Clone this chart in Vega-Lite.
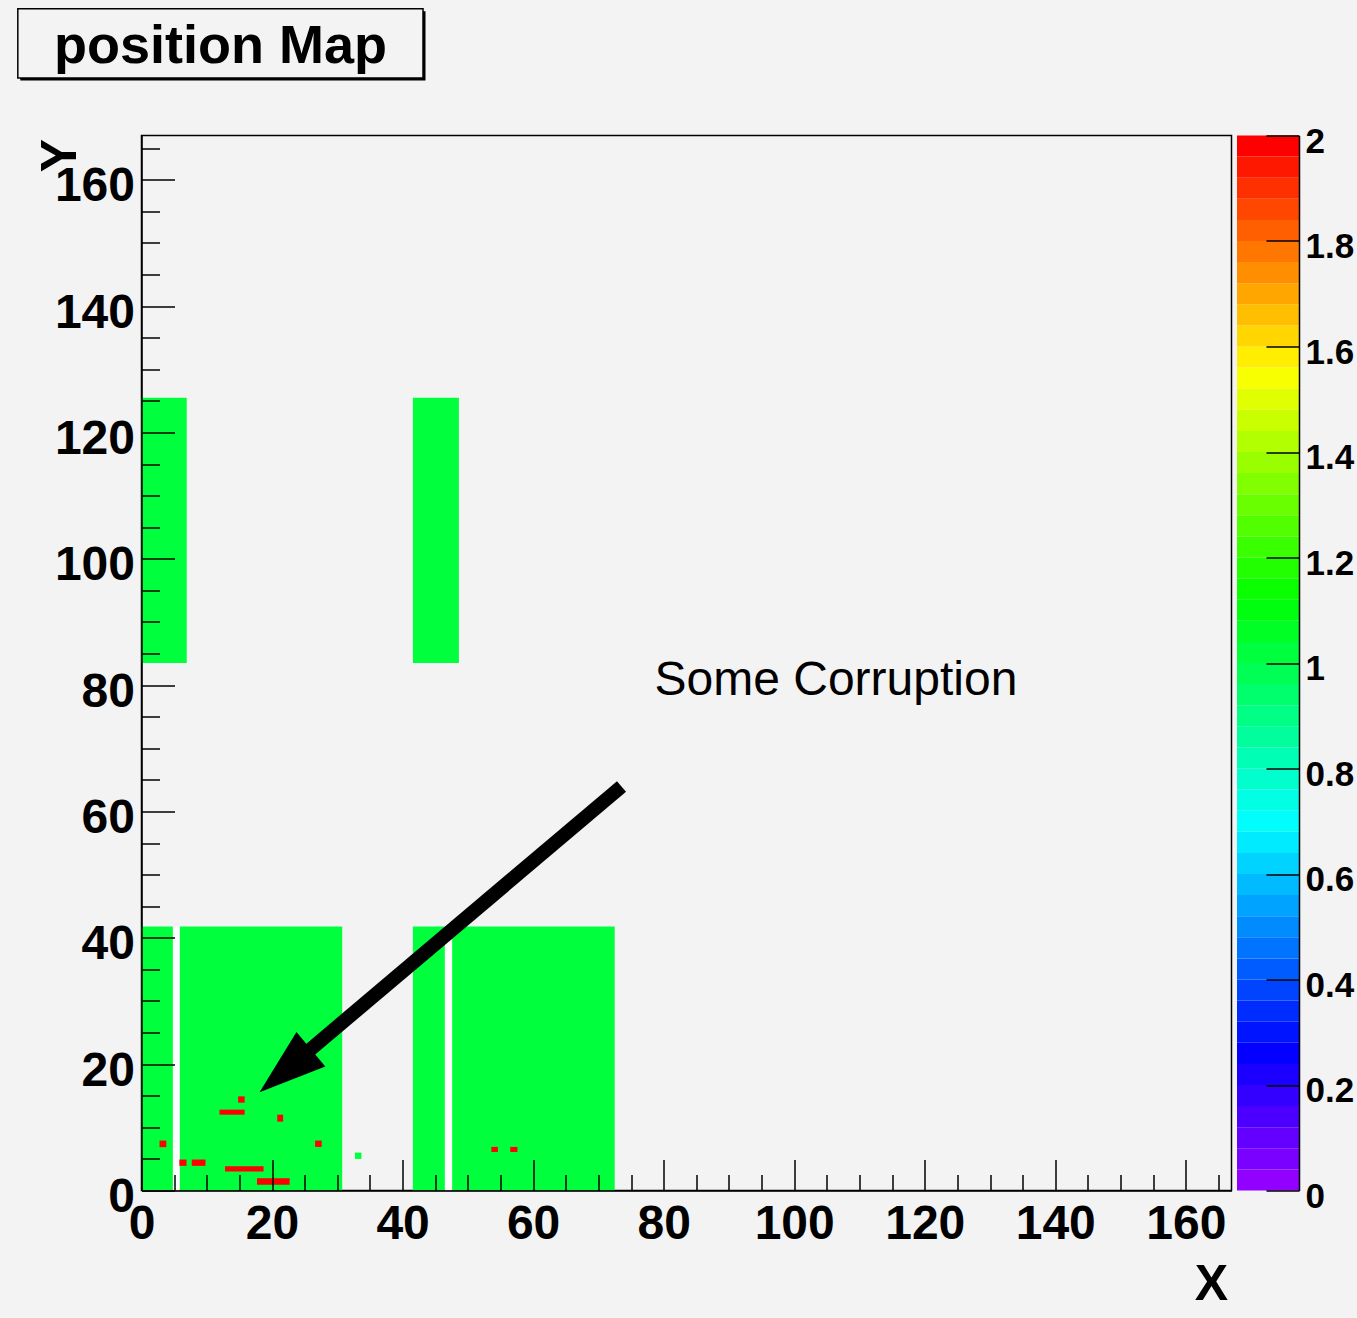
{
  "$schema": "https://vega.github.io/schema/vega-lite/v6.json",
  "background": "#f3f3f3",
  "padding": {"left": 15.5, "top": 6.5, "right": 10, "bottom": 20},
  "config": {
    "view": {"stroke": null},
    "font": "Liberation Sans",
    "axis": {"grid": false, "labelColor": "#000", "titleColor": "#000", "tickColor": "#000", "domainColor": "#000"}
  },
  "datasets": {
    "cells": [
      {"x1": 0, "x2": 6.93, "y1": 83.5, "y2": 125.5, "v": 1},
      {"x1": 41.58, "x2": 48.63, "y1": 83.5, "y2": 125.5, "v": 1},
      {"x1": 0, "x2": 4.8, "y1": 0, "y2": 41.77, "v": 1},
      {"x1": 5.87, "x2": 30.75, "y1": 0, "y2": 41.77, "v": 1},
      {"x1": 41.58, "x2": 46.47, "y1": 0, "y2": 41.77, "v": 1},
      {"x1": 47.6, "x2": 72.5, "y1": 0, "y2": 41.77, "v": 1},
      {"x1": 32.7, "x2": 33.7, "y1": 5.0, "y2": 6.0, "v": 1},
      {"x1": 2.76, "x2": 3.8, "y1": 6.86, "y2": 7.9, "v": 2},
      {"x1": 14.8, "x2": 15.8, "y1": 13.9, "y2": 14.9, "v": 2},
      {"x1": 11.95, "x2": 15.8, "y1": 12.0, "y2": 12.8, "v": 2},
      {"x1": 20.8, "x2": 21.7, "y1": 10.9, "y2": 12.0, "v": 2},
      {"x1": 26.6, "x2": 27.6, "y1": 6.9, "y2": 7.9, "v": 2},
      {"x1": 5.8, "x2": 6.9, "y1": 3.9, "y2": 4.9, "v": 2},
      {"x1": 7.7, "x2": 9.8, "y1": 3.9, "y2": 4.9, "v": 2},
      {"x1": 12.8, "x2": 18.7, "y1": 3.0, "y2": 3.85, "v": 2},
      {"x1": 17.7, "x2": 22.7, "y1": 0.9, "y2": 1.95, "v": 2},
      {"x1": 53.6, "x2": 54.6, "y1": 6.1, "y2": 6.9, "v": 2},
      {"x1": 56.5, "x2": 57.6, "y1": 6.1, "y2": 6.9, "v": 2}
    ],
    "gaps": [
      {"x1": 4.8, "x2": 5.87, "y1": 0, "y2": 41.77},
      {"x1": 46.47, "x2": 47.6, "y1": 0, "y2": 41.77}
    ],
    "palette": [
      {"lo": 0.00, "hi": 0.04, "c": 0.02}, {"lo": 0.04, "hi": 0.08, "c": 0.06},
      {"lo": 0.08, "hi": 0.12, "c": 0.10}, {"lo": 0.12, "hi": 0.16, "c": 0.14},
      {"lo": 0.16, "hi": 0.20, "c": 0.18}, {"lo": 0.20, "hi": 0.24, "c": 0.22},
      {"lo": 0.24, "hi": 0.28, "c": 0.26}, {"lo": 0.28, "hi": 0.32, "c": 0.30},
      {"lo": 0.32, "hi": 0.36, "c": 0.34}, {"lo": 0.36, "hi": 0.40, "c": 0.38},
      {"lo": 0.40, "hi": 0.44, "c": 0.42}, {"lo": 0.44, "hi": 0.48, "c": 0.46},
      {"lo": 0.48, "hi": 0.52, "c": 0.50}, {"lo": 0.52, "hi": 0.56, "c": 0.54},
      {"lo": 0.56, "hi": 0.60, "c": 0.58}, {"lo": 0.60, "hi": 0.64, "c": 0.62},
      {"lo": 0.64, "hi": 0.68, "c": 0.66}, {"lo": 0.68, "hi": 0.72, "c": 0.70},
      {"lo": 0.72, "hi": 0.76, "c": 0.74}, {"lo": 0.76, "hi": 0.80, "c": 0.78},
      {"lo": 0.80, "hi": 0.84, "c": 0.82}, {"lo": 0.84, "hi": 0.88, "c": 0.86},
      {"lo": 0.88, "hi": 0.92, "c": 0.90}, {"lo": 0.92, "hi": 0.96, "c": 0.94},
      {"lo": 0.96, "hi": 1.00, "c": 0.98}, {"lo": 1.00, "hi": 1.04, "c": 1.02},
      {"lo": 1.04, "hi": 1.08, "c": 1.06}, {"lo": 1.08, "hi": 1.12, "c": 1.10},
      {"lo": 1.12, "hi": 1.16, "c": 1.14}, {"lo": 1.16, "hi": 1.20, "c": 1.18},
      {"lo": 1.20, "hi": 1.24, "c": 1.22}, {"lo": 1.24, "hi": 1.28, "c": 1.26},
      {"lo": 1.28, "hi": 1.32, "c": 1.30}, {"lo": 1.32, "hi": 1.36, "c": 1.34},
      {"lo": 1.36, "hi": 1.40, "c": 1.38}, {"lo": 1.40, "hi": 1.44, "c": 1.42},
      {"lo": 1.44, "hi": 1.48, "c": 1.46}, {"lo": 1.48, "hi": 1.52, "c": 1.50},
      {"lo": 1.52, "hi": 1.56, "c": 1.54}, {"lo": 1.56, "hi": 1.60, "c": 1.58},
      {"lo": 1.60, "hi": 1.64, "c": 1.62}, {"lo": 1.64, "hi": 1.68, "c": 1.66},
      {"lo": 1.68, "hi": 1.72, "c": 1.70}, {"lo": 1.72, "hi": 1.76, "c": 1.74},
      {"lo": 1.76, "hi": 1.80, "c": 1.78}, {"lo": 1.80, "hi": 1.84, "c": 1.82},
      {"lo": 1.84, "hi": 1.88, "c": 1.86}, {"lo": 1.88, "hi": 1.92, "c": 1.90},
      {"lo": 1.92, "hi": 1.96, "c": 1.94}, {"lo": 1.96, "hi": 2.00, "c": 1.98}
    ]
  },
  "bounds": "flush",
  "spacing": 5.5,
  "hconcat": [
    {
      "width": 1090,
      "height": 1055,
      "view": {"stroke": "#000", "strokeWidth": 1.5},
      "resolve": {"axis": {"x": "independent", "y": "independent"}},
      "layer": [
        {
          "data": {"values": [{}]},
          "mark": {"type": "rect", "color": "#000", "opacity": 1, "xOffset": 2.5, "x2Offset": 2.5, "yOffset": 2.5, "y2Offset": 2.5},
          "encoding": {
            "x": {"datum": -18.95, "type": "quantitative", "scale": {"domain": [0, 167], "nice": false}, "axis": null},
            "x2": {"datum": 43.13},
            "y": {"datum": 187.06, "type": "quantitative", "scale": {"domain": [0, 167], "nice": false}, "axis": null},
            "y2": {"datum": 176.1}
          }
        },
        {
          "data": {"values": [{}]},
          "mark": {"type": "rect", "fill": "#f3f3f3", "opacity": 1, "stroke": "#000", "strokeWidth": 1.5},
          "encoding": {
            "x": {"datum": -18.95, "type": "quantitative", "scale": {"domain": [0, 167], "nice": false}, "axis": null},
            "x2": {"datum": 43.13},
            "y": {"datum": 187.06, "type": "quantitative", "scale": {"domain": [0, 167], "nice": false}, "axis": null},
            "y2": {"datum": 176.1}
          }
        },
        {
          "data": {"values": [{}]},
          "mark": {"type": "text", "text": "position Map", "fontSize": 54, "fontWeight": "bold", "align": "center", "baseline": "alphabetic", "color": "#000"},
          "encoding": {
            "x": {"datum": 12.1, "type": "quantitative", "scale": {"domain": [0, 167], "nice": false}, "axis": null},
            "y": {"datum": 178.51, "type": "quantitative", "scale": {"domain": [0, 167], "nice": false}, "axis": null}
          }
        },
        {
          "data": {"name": "gaps"},
          "mark": {"type": "rect", "color": "#ffffff"},
          "encoding": {
            "x": {
              "field": "x1", "type": "quantitative", "scale": {"domain": [0, 167], "nice": false},
              "axis": {
                "orient": "bottom", "labels": false, "ticks": true, "domain": true, "domainWidth": 1.5, "title": null, "zindex": 1,
                "values": [0,5,10,15,20,25,30,35,40,45,50,55,60,65,70,75,80,85,90,95,100,105,110,115,120,125,130,135,140,145,150,155,160,165],
                "tickWidth": 1.5,
                "tickSize": {"condition": {"test": "datum.value % 20 === 0", "value": -31}, "value": -16}
              }
            },
            "x2": {"field": "x2"},
            "y": {
              "field": "y1", "type": "quantitative", "scale": {"domain": [0, 167], "nice": false},
              "axis": {
                "orient": "left", "labels": false, "ticks": true, "domain": true, "domainWidth": 1.5, "title": null, "zindex": 1,
                "values": [0,5,10,15,20,25,30,35,40,45,50,55,60,65,70,75,80,85,90,95,100,105,110,115,120,125,130,135,140,145,150,155,160,165],
                "tickWidth": 1.5,
                "tickSize": {"condition": {"test": "datum.value % 20 === 0", "value": -33}, "value": -18}
              }
            },
            "y2": {"field": "y2"}
          }
        },
        {
          "data": {"name": "cells"},
          "mark": {"type": "rect"},
          "encoding": {
            "x": {
              "field": "x1", "type": "quantitative", "scale": {"domain": [0, 167], "nice": false},
              "axis": {
                "orient": "bottom", "values": [0,20,40,60,80,100,120,140,160], "ticks": false, "domain": false,
                "labelFontSize": 48, "labelFontWeight": "bold", "labelPadding": 10, "labelFlush": false, "labelOverlap": false,
                "title": "X", "titleFontSize": 50, "titleFontWeight": "bold", "titleX": 1086, "titleY": 109,
                "titleAlign": "right", "titleBaseline": "alphabetic"
              }
            },
            "x2": {"field": "x2"},
            "y": {
              "field": "y1", "type": "quantitative", "scale": {"domain": [0, 167], "nice": false},
              "axis": {
                "orient": "left", "values": [0,20,40,60,80,100,120,140,160], "ticks": false, "domain": false,
                "labelFontSize": 48, "labelFontWeight": "bold", "labelPadding": 7, "labelOffset": 7, "labelOverlap": false,
                "title": "Y", "titleFontSize": 50, "titleFontWeight": "bold", "titleX": -66, "titleY": 3, "titleAngle": 270,
                "titleAlign": "right", "titleBaseline": "alphabetic"
              }
            },
            "y2": {"field": "y2"},
            "color": {
              "field": "v", "type": "quantitative", "legend": null,
              "scale": {"type": "quantize", "domain": [0, 2], "range": [
                "#9200ff","#7a00ff","#6300ff","#4b00ff","#3300ff","#1b00ff","#0300ff","#0014ff","#002cff","#0044ff",
                "#005cff","#0074ff","#008bff","#00a3ff","#00bbff","#00d3ff","#00ebff","#00fffc","#00ffe4","#00ffcc",
                "#00ffb4","#00ff9c","#00ff85","#00ff6d","#00ff55","#00ff3d","#00ff25","#00ff0e","#0aff00","#22ff00",
                "#3aff00","#52ff00","#69ff00","#81ff00","#99ff00","#b1ff00","#c9ff00","#e0ff00","#f8ff00","#ffee00",
                "#ffd600","#ffbe00","#ffa700","#ff8f00","#ff7700","#ff5f00","#ff4700","#ff3000","#ff1800","#ff0000"]}
            }
          }
        },
        {
          "data": {"values": [{}]},
          "mark": {"type": "rule", "color": "#000", "opacity": 1, "strokeWidth": 14, "strokeCap": "butt"},
          "encoding": {
            "x": {"datum": 73.54, "type": "quantitative", "scale": {"domain": [0, 167], "nice": false}, "axis": null},
            "y": {"datum": 63.95, "type": "quantitative", "scale": {"domain": [0, 167], "nice": false}, "axis": null},
            "x2": {"datum": 22.02},
            "y2": {"datum": 18.96}
          }
        },
        {
          "data": {"values": [{}]},
          "mark": {"type": "point", "shape": "M0,-1L0.67,1L-0.67,1Z", "filled": true, "color": "#000", "opacity": 1, "size": 4489, "angle": 230, "strokeWidth": 0},
          "encoding": {
            "x": {"datum": 22.02, "type": "quantitative", "scale": {"domain": [0, 167], "nice": false}, "axis": null},
            "y": {"datum": 18.96, "type": "quantitative", "scale": {"domain": [0, 167], "nice": false}, "axis": null}
          }
        },
        {
          "data": {"values": [{}]},
          "mark": {"type": "text", "text": "Some Corruption", "fontSize": 48, "align": "left", "baseline": "alphabetic", "color": "#000"},
          "encoding": {
            "x": {"datum": 78.6, "type": "quantitative", "scale": {"domain": [0, 167], "nice": false}, "axis": null},
            "y": {"datum": 78.36, "type": "quantitative", "scale": {"domain": [0, 167], "nice": false}, "axis": null}
          }
        }
      ]
    },
    {
      "width": 62,
      "height": 1055,
      "data": {"name": "palette"},
      "mark": {"type": "rect"},
      "encoding": {
        "x": {"datum": 0, "type": "quantitative", "scale": {"domain": [0, 1], "nice": false}, "axis": null},
        "x2": {"datum": 1},
        "y": {
          "field": "lo", "type": "quantitative", "scale": {"domain": [0, 2], "nice": false},
          "axis": {
            "orient": "right", "values": [0,0.2,0.4,0.6,0.8,1,1.2,1.4,1.6,1.8,2], "format": "~g",
            "tickSize": -33, "tickWidth": 1.5, "domain": true, "domainWidth": 1.5,
            "labelFontSize": 35, "labelFontWeight": "bold", "labelPadding": 39, "labelOffset": 5.5, "labelOverlap": false,
            "title": null, "zindex": 1
          }
        },
        "y2": {"field": "hi"},
        "color": {
          "field": "c", "type": "quantitative", "legend": null,
          "scale": {"type": "quantize", "domain": [0, 2], "range": [
            "#9200ff","#7a00ff","#6300ff","#4b00ff","#3300ff","#1b00ff","#0300ff","#0014ff","#002cff","#0044ff",
            "#005cff","#0074ff","#008bff","#00a3ff","#00bbff","#00d3ff","#00ebff","#00fffc","#00ffe4","#00ffcc",
            "#00ffb4","#00ff9c","#00ff85","#00ff6d","#00ff55","#00ff3d","#00ff25","#00ff0e","#0aff00","#22ff00",
            "#3aff00","#52ff00","#69ff00","#81ff00","#99ff00","#b1ff00","#c9ff00","#e0ff00","#f8ff00","#ffee00",
            "#ffd600","#ffbe00","#ffa700","#ff8f00","#ff7700","#ff5f00","#ff4700","#ff3000","#ff1800","#ff0000"]}
        }
      }
    }
  ]
}
